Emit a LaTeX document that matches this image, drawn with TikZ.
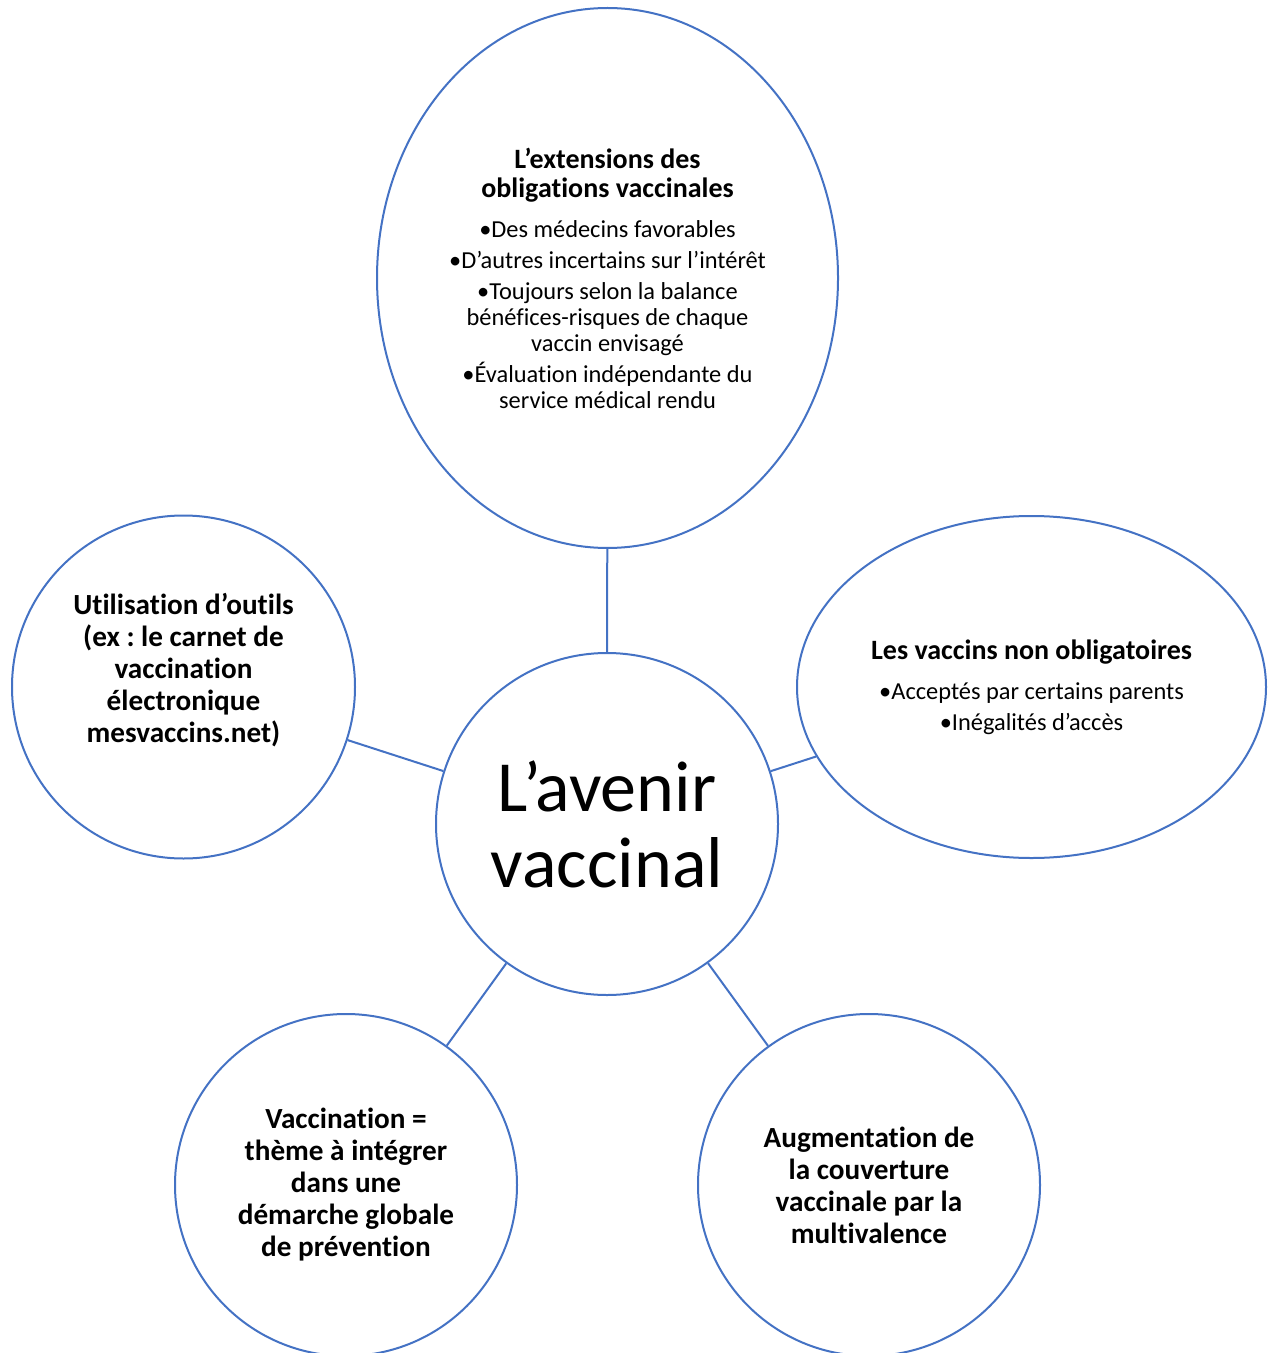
\documentclass[tikz,border=0pt]{standalone}
\usepackage{fontspec}
\setmainfont[Ligatures=NoCommon]{Carlito}
\usetikzlibrary{shapes.geometric}
\definecolor{smartblue}{HTML}{4472C4}
\newcommand{\ttl}[1]{{\bfseries\fontsize{14}{15}\selectfont #1}}
\frenchspacing

\begin{document}
\begin{tikzpicture}[x=0.5pt,y=-0.5pt,
    bubble/.style={ellipse,draw=smartblue,line width=1pt,fill=white,inner sep=0pt,
      align=center,font=\bfseries\fontsize{14.6}{16}\selectfont},
    detail/.style={font=\fontsize{12.2}{13}\selectfont},
    link/.style={draw=smartblue,line width=1pt}]

  \useasboundingbox (0,0) rectangle (1270,1353);

  % centre
  \node[bubble,minimum width=171pt,minimum height=171pt,
        font=\fontsize{36}{38}\selectfont] (avenir) at (607,824) {L’avenir\\vaccinal};

  % branches
  \node[bubble,detail,minimum width=230.5pt,minimum height=270pt] (oblig) at (607.5,278)
      {\ttl{L’extensions des}\\[1.5pt]
       \ttl{obligations vaccinales}\\[7pt]
       •Des médecins favorables\\[2.5pt]
       •D’autres incertains sur l’intérêt\\[2.5pt]
       •Toujours selon la balance\\
       bénéfices-risques de chaque\\
       vaccin envisagé\\[2.5pt]
       •Évaluation indépendante du\\
       service médical rendu};
  \node[bubble,detail,minimum width=234.5pt,minimum height=171pt] (nonoblig) at (1031.5,687)
      {\ttl{Les vaccins non obligatoires}\\[7pt]
       •Acceptés par certains parents\\[2.5pt]
       •Inégalités d’accès};
  \node[bubble,minimum width=171.5pt,minimum height=171.5pt] (outils) at (183.5,687)
      {Utilisation d’outils\\(ex : le carnet de\\vaccination\\électronique\\mesvaccins.net)\rule[-19pt]{0pt}{19pt}};
  \node[bubble,minimum width=171pt,minimum height=171pt] (prevention) at (346,1185)
      {Vaccination =\\thème à intégrer\\dans une\\démarche globale\\de prévention};
  \node[bubble,minimum width=171pt,minimum height=171pt] (couverture) at (869,1185)
      {Augmentation de\\la couverture\\vaccinale par la\\multivalence};

  \draw[link] (oblig) -- (avenir);
  \draw[link] (nonoblig) -- (avenir);
  \draw[link] (outils) -- (avenir);
  \draw[link] (prevention) -- (avenir);
  \draw[link] (couverture) -- (avenir);
\end{tikzpicture}
\end{document}
